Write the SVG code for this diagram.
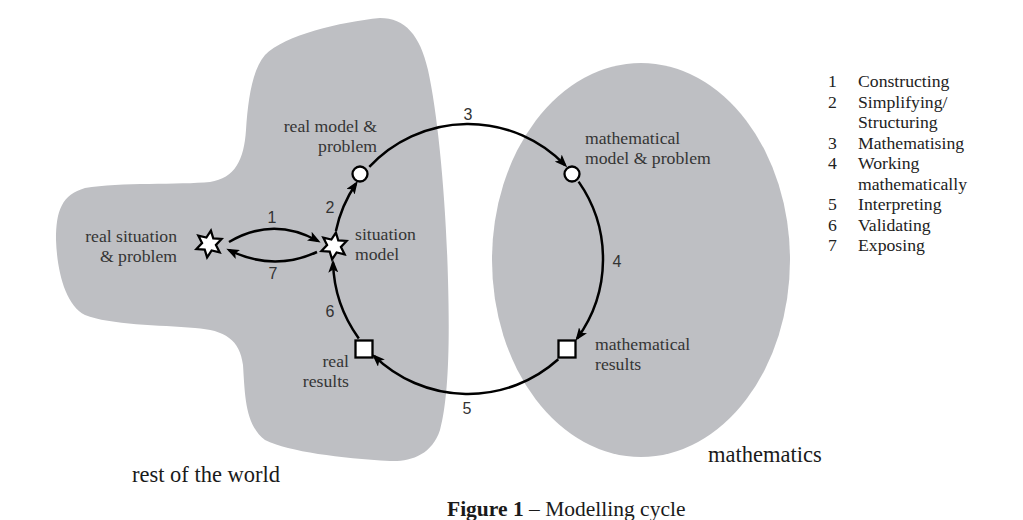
<svg xmlns="http://www.w3.org/2000/svg" width="1023" height="520" viewBox="0 0 1023 520">
<style>
.region{fill:#bebfc3;stroke:none}
.lbl{font-family:"Liberation Serif","Times New Roman",serif;font-size:17.7px;fill:#353535}
.big{font-family:"Liberation Serif","Times New Roman",serif;font-size:22.5px;fill:#1a1a1a}
.leg{font-family:"Liberation Serif","Times New Roman",serif;font-size:17.7px;fill:#222}
.num{font-family:"Liberation Sans",Arial,sans-serif;font-size:16px;fill:#333;text-anchor:middle}
.edge{fill:none;stroke:#000;stroke-width:2.5;marker-end:url(#ah)}
.node{fill:#fff;stroke:#000;stroke-width:2.3}
</style>
<defs>
<marker id="ah" markerWidth="14" markerHeight="10" refX="10" refY="5" orient="auto" markerUnits="userSpaceOnUse">
<path d="M0,0 L13,5 L0,10 L3,5 Z" fill="#000"/>
</marker>
<path id="star" d="M0,-13.5 L3.5,-6.06 L11.69,-6.75 L7,0 L11.69,6.75 L3.5,6.06 L0,13.5 L-3.5,6.06 L-11.69,6.75 L-7,0 L-11.69,-6.75 L-3.5,-6.06 Z"/>
</defs>
<rect width="1023" height="520" fill="#fff"/>
<g id="rest-of-world">
<path class="region" d="M380,18 C405,18 420,35 428,70 C438,115 446,200 448,280 C450,350 448,400 440,430 C432,455 410,462 390,461 C340,458 290,452 265,440 C245,425 245,395 243,365 C240,340 225,330 195,328 C160,325 110,325 85,315 C65,305 57,270 56,240 C56,210 62,195 85,188 C120,182 180,185 210,182 C235,178 244,160 246,130 C248,100 252,70 265,55 C285,35 340,22 380,18 Z"/>
<text class="big" x="132" y="482">rest of the world</text>
</g>
<g id="mathematics">
<ellipse class="region" cx="641" cy="260" rx="149" ry="197"/>
<text class="big" x="708" y="462">mathematics</text>
</g>
<g id="connectors">
<path class="edge" d="M229,242 Q273,216 318,241"/>
<path class="edge" d="M317,252 Q273,272 229,250"/>
<path class="edge" d="M335.9,230.9 A135,135 0 0 1 356.1,183.5"/>
<path class="edge" d="M369.3,166.9 A135,135 0 0 1 565.1,165.2"/>
<path class="edge" d="M578.6,181.6 A135,135 0 0 1 577.2,338.4"/>
<path class="edge" d="M558.3,359.3 A135,135 0 0 1 374.2,356.1"/>
<path class="edge" d="M358.8,338.4 A135,135 0 0 1 333.05,262.5"/>
<text class="num" x="272" y="223">1</text>
<text class="num" x="330" y="213">2</text>
<text class="num" x="468" y="120">3</text>
<text class="num" x="617" y="267">4</text>
<text class="num" x="467" y="414">5</text>
<text class="num" x="330" y="317">6</text>
<text class="num" x="273" y="279">7</text>
</g>
<g id="real-situation">
<use href="#star" class="node" transform="translate(209,244) rotate(8)"/>
<text class="lbl" x="177" y="242" text-anchor="end">real situation</text>
<text class="lbl" x="177" y="262" text-anchor="end">&amp; problem</text>
</g>
<g id="situation-model">
<use href="#star" class="node" transform="translate(334,246) rotate(8)"/>
<text class="lbl" x="355" y="240">situation</text>
<text class="lbl" x="355" y="260">model</text>
</g>
<g id="real-model">
<circle class="node" cx="360" cy="174" r="7.5"/>
<text class="lbl" x="377" y="132" text-anchor="end">real model &amp;</text>
<text class="lbl" x="377" y="152" text-anchor="end">problem</text>
</g>
<g id="math-model">
<circle class="node" cx="572" cy="174" r="7.5"/>
<text class="lbl" x="585" y="144">mathematical</text>
<text class="lbl" x="585" y="164">model &amp; problem</text>
</g>
<g id="math-results">
<rect class="node" x="558.5" y="340.5" width="17" height="17"/>
<text class="lbl" x="595" y="350">mathematical</text>
<text class="lbl" x="595" y="370">results</text>
</g>
<g id="real-results">
<rect class="node" x="355.5" y="340.5" width="17" height="17"/>
<text class="lbl" x="349" y="367" text-anchor="end">real</text>
<text class="lbl" x="349" y="387" text-anchor="end">results</text>
</g>
<g id="legend" class="leg">
<text x="828" y="87">1</text><text x="858" y="87">Constructing</text>
<text x="828" y="107.5">2</text><text x="858" y="107.5">Simplifying/</text>
<text x="858" y="128">Structuring</text>
<text x="828" y="148.5">3</text><text x="858" y="148.5">Mathematising</text>
<text x="828" y="169">4</text><text x="858" y="169">Working</text>
<text x="858" y="189.5">mathematically</text>
<text x="828" y="210">5</text><text x="858" y="210">Interpreting</text>
<text x="828" y="230.5">6</text><text x="858" y="230.5">Validating</text>
<text x="828" y="251">7</text><text x="858" y="251">Exposing</text>
</g>
<g id="caption">
<text x="447" y="516" style="font-family:'Liberation Serif','Times New Roman',serif;font-size:21.5px;fill:#1a1a1a"><tspan font-weight="bold">Figure 1</tspan> – Modelling cycle</text>
</g>
</svg>
